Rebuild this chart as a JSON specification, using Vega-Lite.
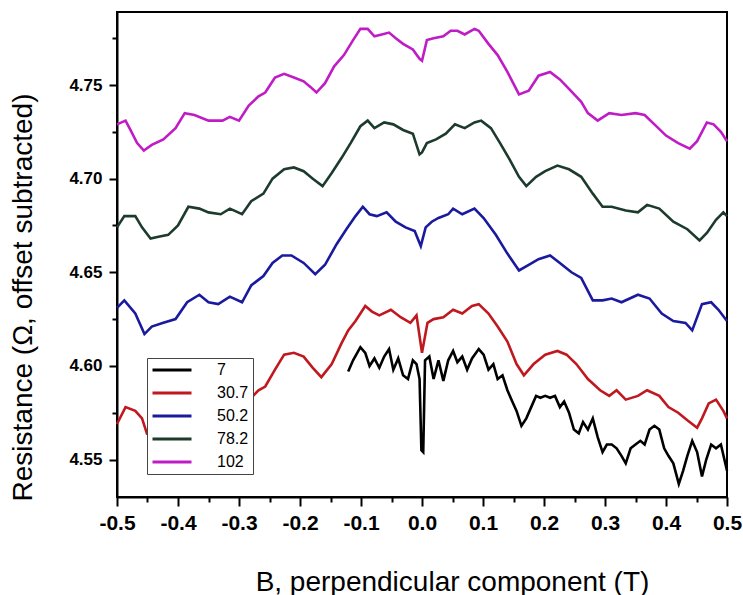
{
"$schema": "https://vega.github.io/schema/vega-lite/v6.json",
"width": 610, "height": 485,
"autosize": {"type": "none"},
"padding": {"left": 117, "top": 12, "right": 16, "bottom": 98},
"background": "white",
"config": {"view": {"stroke": "black", "strokeWidth": 2}, "font": "Liberation Sans"},
"data": {"values": [
{"T":"102","B":-0.5,"R":4.729},{"T":"102","B":-0.486,"R":4.731},{"T":"102","B":-0.478,"R":4.726},{"T":"102","B":-0.467,"R":4.719},{"T":"102","B":-0.456,"R":4.715},{"T":"102","B":-0.443,"R":4.718},{"T":"102","B":-0.424,"R":4.721},{"T":"102","B":-0.404,"R":4.727},{"T":"102","B":-0.389,"R":4.735},{"T":"102","B":-0.373,"R":4.734},{"T":"102","B":-0.35,"R":4.731},{"T":"102","B":-0.327,"R":4.731},{"T":"102","B":-0.315,"R":4.733},{"T":"102","B":-0.3,"R":4.731},{"T":"102","B":-0.284,"R":4.739},{"T":"102","B":-0.268,"R":4.744},{"T":"102","B":-0.257,"R":4.746},{"T":"102","B":-0.241,"R":4.754},{"T":"102","B":-0.226,"R":4.756},{"T":"102","B":-0.21,"R":4.754},{"T":"102","B":-0.194,"R":4.752},{"T":"102","B":-0.183,"R":4.749},{"T":"102","B":-0.173,"R":4.746},{"T":"102","B":-0.159,"R":4.751},{"T":"102","B":-0.144,"R":4.76},{"T":"102","B":-0.128,"R":4.766},{"T":"102","B":-0.113,"R":4.774},{"T":"102","B":-0.101,"R":4.78},{"T":"102","B":-0.089,"R":4.78},{"T":"102","B":-0.078,"R":4.776},{"T":"102","B":-0.066,"R":4.777},{"T":"102","B":-0.054,"R":4.778},{"T":"102","B":-0.043,"R":4.775},{"T":"102","B":-0.031,"R":4.772},{"T":"102","B":-0.015,"R":4.769},{"T":"102","B":-0.004,"R":4.764},{"T":"102","B":0,"R":4.763},{"T":"102","B":0.008,"R":4.774},{"T":"102","B":0.019,"R":4.775},{"T":"102","B":0.035,"R":4.776},{"T":"102","B":0.047,"R":4.779},{"T":"102","B":0.058,"R":4.779},{"T":"102","B":0.07,"R":4.777},{"T":"102","B":0.086,"R":4.78},{"T":"102","B":0.093,"R":4.779},{"T":"102","B":0.109,"R":4.772},{"T":"102","B":0.124,"R":4.766},{"T":"102","B":0.14,"R":4.757},{"T":"102","B":0.159,"R":4.745},{"T":"102","B":0.175,"R":4.747},{"T":"102","B":0.191,"R":4.755},{"T":"102","B":0.21,"R":4.757},{"T":"102","B":0.226,"R":4.753},{"T":"102","B":0.241,"R":4.748},{"T":"102","B":0.261,"R":4.741},{"T":"102","B":0.272,"R":4.735},{"T":"102","B":0.288,"R":4.731},{"T":"102","B":0.307,"R":4.735},{"T":"102","B":0.327,"R":4.734},{"T":"102","B":0.35,"R":4.735},{"T":"102","B":0.365,"R":4.734},{"T":"102","B":0.381,"R":4.729},{"T":"102","B":0.4,"R":4.723},{"T":"102","B":0.42,"R":4.719},{"T":"102","B":0.439,"R":4.716},{"T":"102","B":0.451,"R":4.72},{"T":"102","B":0.467,"R":4.73},{"T":"102","B":0.478,"R":4.729},{"T":"102","B":0.49,"R":4.725},{"T":"102","B":0.5,"R":4.72},
{"T":"78.2","B":-0.5,"R":4.674},{"T":"78.2","B":-0.488,"R":4.68},{"T":"78.2","B":-0.47,"R":4.68},{"T":"78.2","B":-0.459,"R":4.674},{"T":"78.2","B":-0.445,"R":4.668},{"T":"78.2","B":-0.432,"R":4.669},{"T":"78.2","B":-0.416,"R":4.67},{"T":"78.2","B":-0.4,"R":4.675},{"T":"78.2","B":-0.383,"R":4.685},{"T":"78.2","B":-0.365,"R":4.684},{"T":"78.2","B":-0.35,"R":4.682},{"T":"78.2","B":-0.33,"R":4.681},{"T":"78.2","B":-0.315,"R":4.684},{"T":"78.2","B":-0.295,"R":4.681},{"T":"78.2","B":-0.28,"R":4.688},{"T":"78.2","B":-0.26,"R":4.692},{"T":"78.2","B":-0.245,"R":4.7},{"T":"78.2","B":-0.226,"R":4.705},{"T":"78.2","B":-0.21,"R":4.706},{"T":"78.2","B":-0.194,"R":4.704},{"T":"78.2","B":-0.179,"R":4.7},{"T":"78.2","B":-0.163,"R":4.696},{"T":"78.2","B":-0.148,"R":4.703},{"T":"78.2","B":-0.132,"R":4.711},{"T":"78.2","B":-0.117,"R":4.719},{"T":"78.2","B":-0.101,"R":4.728},{"T":"78.2","B":-0.089,"R":4.731},{"T":"78.2","B":-0.078,"R":4.727},{"T":"78.2","B":-0.062,"R":4.73},{"T":"78.2","B":-0.047,"R":4.729},{"T":"78.2","B":-0.031,"R":4.726},{"T":"78.2","B":-0.015,"R":4.724},{"T":"78.2","B":-0.004,"R":4.713},{"T":"78.2","B":0,"R":4.714},{"T":"78.2","B":0.008,"R":4.719},{"T":"78.2","B":0.023,"R":4.721},{"T":"78.2","B":0.039,"R":4.724},{"T":"78.2","B":0.054,"R":4.729},{"T":"78.2","B":0.07,"R":4.727},{"T":"78.2","B":0.086,"R":4.73},{"T":"78.2","B":0.097,"R":4.731},{"T":"78.2","B":0.113,"R":4.727},{"T":"78.2","B":0.128,"R":4.719},{"T":"78.2","B":0.144,"R":4.71},{"T":"78.2","B":0.159,"R":4.701},{"T":"78.2","B":0.171,"R":4.696},{"T":"78.2","B":0.187,"R":4.701},{"T":"78.2","B":0.202,"R":4.704},{"T":"78.2","B":0.222,"R":4.707},{"T":"78.2","B":0.241,"R":4.705},{"T":"78.2","B":0.261,"R":4.701},{"T":"78.2","B":0.28,"R":4.692},{"T":"78.2","B":0.296,"R":4.685},{"T":"78.2","B":0.311,"R":4.685},{"T":"78.2","B":0.334,"R":4.683},{"T":"78.2","B":0.354,"R":4.682},{"T":"78.2","B":0.369,"R":4.686},{"T":"78.2","B":0.389,"R":4.684},{"T":"78.2","B":0.412,"R":4.677},{"T":"78.2","B":0.435,"R":4.673},{"T":"78.2","B":0.455,"R":4.667},{"T":"78.2","B":0.467,"R":4.671},{"T":"78.2","B":0.482,"R":4.678},{"T":"78.2","B":0.494,"R":4.682},{"T":"78.2","B":0.5,"R":4.68},
{"T":"50.2","B":-0.5,"R":4.631},{"T":"50.2","B":-0.488,"R":4.635},{"T":"50.2","B":-0.47,"R":4.628},{"T":"50.2","B":-0.455,"R":4.617},{"T":"50.2","B":-0.443,"R":4.621},{"T":"50.2","B":-0.424,"R":4.623},{"T":"50.2","B":-0.404,"R":4.625},{"T":"50.2","B":-0.385,"R":4.634},{"T":"50.2","B":-0.365,"R":4.638},{"T":"50.2","B":-0.35,"R":4.634},{"T":"50.2","B":-0.334,"R":4.633},{"T":"50.2","B":-0.315,"R":4.637},{"T":"50.2","B":-0.295,"R":4.634},{"T":"50.2","B":-0.28,"R":4.643},{"T":"50.2","B":-0.26,"R":4.648},{"T":"50.2","B":-0.245,"R":4.655},{"T":"50.2","B":-0.229,"R":4.659},{"T":"50.2","B":-0.214,"R":4.659},{"T":"50.2","B":-0.194,"R":4.655},{"T":"50.2","B":-0.175,"R":4.649},{"T":"50.2","B":-0.159,"R":4.654},{"T":"50.2","B":-0.14,"R":4.665},{"T":"50.2","B":-0.124,"R":4.673},{"T":"50.2","B":-0.109,"R":4.68},{"T":"50.2","B":-0.097,"R":4.685},{"T":"50.2","B":-0.086,"R":4.681},{"T":"50.2","B":-0.074,"R":4.68},{"T":"50.2","B":-0.058,"R":4.682},{"T":"50.2","B":-0.043,"R":4.677},{"T":"50.2","B":-0.027,"R":4.674},{"T":"50.2","B":-0.012,"R":4.672},{"T":"50.2","B":-0.002,"R":4.664},{"T":"50.2","B":0.006,"R":4.674},{"T":"50.2","B":0.016,"R":4.677},{"T":"50.2","B":0.027,"R":4.679},{"T":"50.2","B":0.043,"R":4.681},{"T":"50.2","B":0.051,"R":4.684},{"T":"50.2","B":0.066,"R":4.681},{"T":"50.2","B":0.086,"R":4.684},{"T":"50.2","B":0.101,"R":4.679},{"T":"50.2","B":0.121,"R":4.67},{"T":"50.2","B":0.14,"R":4.66},{"T":"50.2","B":0.159,"R":4.651},{"T":"50.2","B":0.175,"R":4.654},{"T":"50.2","B":0.191,"R":4.657},{"T":"50.2","B":0.21,"R":4.659},{"T":"50.2","B":0.226,"R":4.655},{"T":"50.2","B":0.245,"R":4.65},{"T":"50.2","B":0.261,"R":4.647},{"T":"50.2","B":0.28,"R":4.635},{"T":"50.2","B":0.296,"R":4.635},{"T":"50.2","B":0.311,"R":4.636},{"T":"50.2","B":0.327,"R":4.634},{"T":"50.2","B":0.354,"R":4.638},{"T":"50.2","B":0.373,"R":4.636},{"T":"50.2","B":0.393,"R":4.628},{"T":"50.2","B":0.412,"R":4.624},{"T":"50.2","B":0.432,"R":4.623},{"T":"50.2","B":0.443,"R":4.619},{"T":"50.2","B":0.459,"R":4.633},{"T":"50.2","B":0.474,"R":4.634},{"T":"50.2","B":0.486,"R":4.63},{"T":"50.2","B":0.5,"R":4.624},
{"T":"30.7","B":-0.5,"R":4.569},{"T":"30.7","B":-0.486,"R":4.578},{"T":"30.7","B":-0.47,"R":4.576},{"T":"30.7","B":-0.459,"R":4.572},{"T":"30.7","B":-0.451,"R":4.564},{"T":"30.7","B":-0.4,"R":4.568},{"T":"30.7","B":-0.35,"R":4.574},{"T":"30.7","B":-0.319,"R":4.58},{"T":"30.7","B":-0.307,"R":4.578},{"T":"30.7","B":-0.295,"R":4.577},{"T":"30.7","B":-0.28,"R":4.583},{"T":"30.7","B":-0.268,"R":4.587},{"T":"30.7","B":-0.257,"R":4.589},{"T":"30.7","B":-0.241,"R":4.598},{"T":"30.7","B":-0.226,"R":4.606},{"T":"30.7","B":-0.21,"R":4.607},{"T":"30.7","B":-0.194,"R":4.605},{"T":"30.7","B":-0.179,"R":4.599},{"T":"30.7","B":-0.165,"R":4.594},{"T":"30.7","B":-0.148,"R":4.601},{"T":"30.7","B":-0.132,"R":4.612},{"T":"30.7","B":-0.121,"R":4.619},{"T":"30.7","B":-0.109,"R":4.624},{"T":"30.7","B":-0.093,"R":4.632},{"T":"30.7","B":-0.082,"R":4.629},{"T":"30.7","B":-0.07,"R":4.627},{"T":"30.7","B":-0.051,"R":4.63},{"T":"30.7","B":-0.035,"R":4.626},{"T":"30.7","B":-0.019,"R":4.623},{"T":"30.7","B":-0.009,"R":4.627},{"T":"30.7","B":0,"R":4.607},{"T":"30.7","B":0.009,"R":4.623},{"T":"30.7","B":0.019,"R":4.625},{"T":"30.7","B":0.035,"R":4.626},{"T":"30.7","B":0.051,"R":4.63},{"T":"30.7","B":0.066,"R":4.628},{"T":"30.7","B":0.082,"R":4.632},{"T":"30.7","B":0.093,"R":4.633},{"T":"30.7","B":0.109,"R":4.628},{"T":"30.7","B":0.124,"R":4.621},{"T":"30.7","B":0.14,"R":4.613},{"T":"30.7","B":0.155,"R":4.601},{"T":"30.7","B":0.167,"R":4.595},{"T":"30.7","B":0.183,"R":4.601},{"T":"30.7","B":0.202,"R":4.606},{"T":"30.7","B":0.222,"R":4.608},{"T":"30.7","B":0.237,"R":4.606},{"T":"30.7","B":0.253,"R":4.601},{"T":"30.7","B":0.272,"R":4.593},{"T":"30.7","B":0.292,"R":4.587},{"T":"30.7","B":0.307,"R":4.584},{"T":"30.7","B":0.319,"R":4.587},{"T":"30.7","B":0.334,"R":4.582},{"T":"30.7","B":0.354,"R":4.584},{"T":"30.7","B":0.369,"R":4.587},{"T":"30.7","B":0.389,"R":4.584},{"T":"30.7","B":0.404,"R":4.578},{"T":"30.7","B":0.42,"R":4.575},{"T":"30.7","B":0.435,"R":4.571},{"T":"30.7","B":0.451,"R":4.567},{"T":"30.7","B":0.459,"R":4.572},{"T":"30.7","B":0.47,"R":4.58},{"T":"30.7","B":0.482,"R":4.582},{"T":"30.7","B":0.494,"R":4.576},{"T":"30.7","B":0.5,"R":4.572},
{"T":"7","B":-0.121,"R":4.597},{"T":"7","B":-0.113,"R":4.603},{"T":"7","B":-0.101,"R":4.61},{"T":"7","B":-0.093,"R":4.607},{"T":"7","B":-0.086,"R":4.6},{"T":"7","B":-0.078,"R":4.604},{"T":"7","B":-0.07,"R":4.599},{"T":"7","B":-0.062,"R":4.605},{"T":"7","B":-0.054,"R":4.609},{"T":"7","B":-0.047,"R":4.598},{"T":"7","B":-0.039,"R":4.604},{"T":"7","B":-0.031,"R":4.595},{"T":"7","B":-0.023,"R":4.593},{"T":"7","B":-0.015,"R":4.603},{"T":"7","B":-0.009,"R":4.601},{"T":"7","B":-0.004,"R":4.593},{"T":"7","B":-0.001,"R":4.555},{"T":"7","B":0.002,"R":4.554},{"T":"7","B":0.005,"R":4.603},{"T":"7","B":0.012,"R":4.605},{"T":"7","B":0.019,"R":4.593},{"T":"7","B":0.027,"R":4.603},{"T":"7","B":0.035,"R":4.592},{"T":"7","B":0.043,"R":4.603},{"T":"7","B":0.051,"R":4.608},{"T":"7","B":0.058,"R":4.602},{"T":"7","B":0.066,"R":4.605},{"T":"7","B":0.074,"R":4.598},{"T":"7","B":0.082,"R":4.604},{"T":"7","B":0.093,"R":4.609},{"T":"7","B":0.101,"R":4.606},{"T":"7","B":0.109,"R":4.598},{"T":"7","B":0.117,"R":4.601},{"T":"7","B":0.124,"R":4.593},{"T":"7","B":0.132,"R":4.595},{"T":"7","B":0.14,"R":4.587},{"T":"7","B":0.148,"R":4.581},{"T":"7","B":0.155,"R":4.576},{"T":"7","B":0.163,"R":4.568},{"T":"7","B":0.171,"R":4.572},{"T":"7","B":0.179,"R":4.578},{"T":"7","B":0.187,"R":4.584},{"T":"7","B":0.194,"R":4.583},{"T":"7","B":0.202,"R":4.584},{"T":"7","B":0.21,"R":4.583},{"T":"7","B":0.218,"R":4.584},{"T":"7","B":0.226,"R":4.578},{"T":"7","B":0.233,"R":4.581},{"T":"7","B":0.241,"R":4.575},{"T":"7","B":0.249,"R":4.566},{"T":"7","B":0.257,"R":4.564},{"T":"7","B":0.264,"R":4.57},{"T":"7","B":0.272,"R":4.566},{"T":"7","B":0.28,"R":4.572},{"T":"7","B":0.288,"R":4.562},{"T":"7","B":0.296,"R":4.554},{"T":"7","B":0.303,"R":4.558},{"T":"7","B":0.311,"R":4.558},{"T":"7","B":0.319,"R":4.556},{"T":"7","B":0.327,"R":4.552},{"T":"7","B":0.334,"R":4.548},{"T":"7","B":0.342,"R":4.556},{"T":"7","B":0.35,"R":4.558},{"T":"7","B":0.358,"R":4.56},{"T":"7","B":0.365,"R":4.558},{"T":"7","B":0.373,"R":4.566},{"T":"7","B":0.381,"R":4.568},{"T":"7","B":0.389,"R":4.566},{"T":"7","B":0.397,"R":4.556},{"T":"7","B":0.404,"R":4.552},{"T":"7","B":0.412,"R":4.548},{"T":"7","B":0.421,"R":4.537},{"T":"7","B":0.428,"R":4.544},{"T":"7","B":0.435,"R":4.552},{"T":"7","B":0.443,"R":4.56},{"T":"7","B":0.451,"R":4.554},{"T":"7","B":0.459,"R":4.541},{"T":"7","B":0.466,"R":4.55},{"T":"7","B":0.474,"R":4.558},{"T":"7","B":0.482,"R":4.556},{"T":"7","B":0.49,"R":4.558},{"T":"7","B":0.5,"R":4.544}
]},
"layer": [
{
"mark": {"type": "line", "strokeWidth": 2.6},
"encoding": {
"x": {"field": "B", "type": "quantitative",
 "scale": {"domain": [-0.5, 0.5], "nice": false, "zero": false},
 "axis": {"orient": "bottom", "values": [-0.5,-0.4,-0.3,-0.2,-0.1,0,0.1,0.2,0.3,0.4,0.5],
  "labelExpr": "replace(format(datum.value, '.1f'), '\u2212', '-')",
  "labelFont": "Liberation Sans", "labelFontSize": 21, "labelFontWeight": "bold", "labelColor": "black",
  "labelFlush": false, "labelOverlap": false, "labelPadding": 6,
  "tickSize": 9, "tickWidth": 2, "tickColor": "black", "domainColor": "black", "domainWidth": 2, "grid": false,
  "title": "B, perpendicular component (T)", "titleFont": "Liberation Sans", "titleFontSize": 28, "titleFontWeight": "normal", "titleColor": "black",
  "titleX": 335, "titleY": 93, "titleBaseline": "alphabetic"}},
"y": {"field": "R", "type": "quantitative",
 "scale": {"domain": [4.53, 4.789], "nice": false, "zero": false},
 "axis": {"orient": "left", "values": [4.55, 4.6, 4.65, 4.7, 4.75], "format": ".2f",
  "labelFont": "Liberation Sans", "labelFontSize": 17, "labelFontWeight": "bold", "labelColor": "black",
  "labelOverlap": false, "labelPadding": 7, "labelFlush": false,
  "tickSize": 8, "tickWidth": 2, "tickColor": "black", "domainColor": "black", "domainWidth": 2, "grid": false,
  "title": "Resistance (Ω, offset subtracted)", "titleFont": "Liberation Sans", "titleFontSize": 28, "titleFontWeight": "normal", "titleColor": "black",
  "titleAngle": 270, "titleBaseline": "bottom", "titleAlign": "center", "titleX": -80, "titleY": 285}},
"color": {"field": "T", "type": "nominal",
 "scale": {"domain": ["7", "30.7", "50.2", "78.2", "102"], "range": ["#000000", "#c0181f", "#1a1a9e", "#1d3b2d", "#c01cc6"]},
 "legend": {"orient": "none", "legendX": 30, "legendY": 346, "title": null,
  "symbolType": "M-3,0H3", "symbolSize": 169, "symbolStrokeWidth": 3, "symbolOffset": 13,
  "labelFont": "Liberation Sans", "labelFontSize": 16, "labelColor": "black", "labelOffset": 37,
  "fillColor": "white", "strokeColor": "#444444", "padding": 4, "rowPadding": 7}}
}
},
{
"mark": {"type": "point", "opacity": 0},
"encoding": {
"x": {"field": "B", "type": "quantitative",
 "axis": {"orient": "bottom", "values": [-0.45,-0.35,-0.25,-0.15,-0.05,0.05,0.15,0.25,0.35,0.45],
  "labels": false, "domain": false, "grid": false, "title": null, "tickSize": 5, "tickWidth": 2, "tickColor": "black"}},
"y": {"field": "R", "type": "quantitative",
 "axis": {"orient": "left", "values": [4.575, 4.625, 4.675, 4.725, 4.775],
  "labels": false, "domain": false, "grid": false, "title": null, "tickSize": 5, "tickWidth": 2, "tickColor": "black"}}
}
}
],
"resolve": {"axis": {"x": "independent", "y": "independent"}}
}
